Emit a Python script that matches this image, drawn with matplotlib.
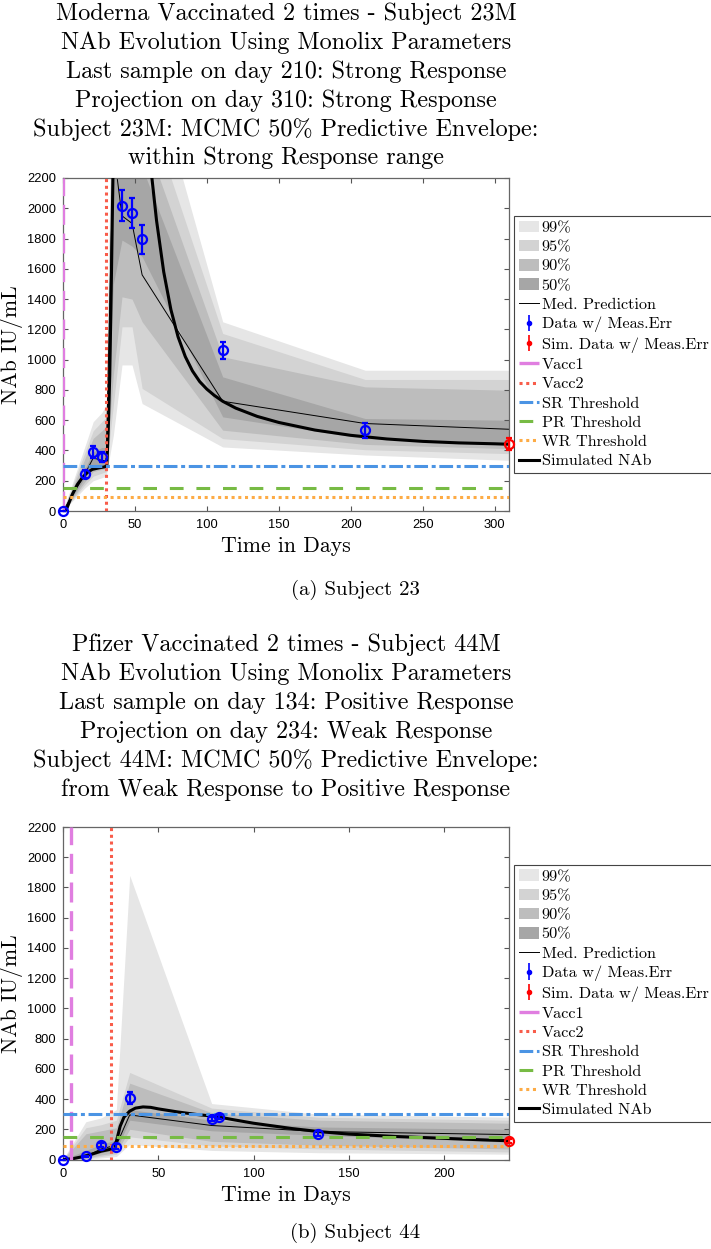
import matplotlib
matplotlib.use('Agg')
import matplotlib.pyplot as plt
from matplotlib.patches import Patch

SERIF = 'cmr10'
SANS = 'Liberation Sans'
plt.rcParams['axes.formatter.use_mathtext'] = False

# ---------------- Subject 23 (Moderna) ----------------
s23_title = ["Moderna Vaccinated 2 times - Subject 23M",
             "NAb Evolution Using Monolix Parameters",
             "Last sample on day 210: Strong Response",
             "Projection on day 310: Strong Response",
             "Subject 23M: MCMC 50% Predictive Envelope:",
             "within Strong Response range"]
s23_caption = "(a) Subject 23"
s23_xmax = 310
s23_xticks = [0, 50, 100, 150, 200, 250, 300]
s23_vacc1 = 0
s23_vacc2 = 30
s23_band_t = [0, 15, 21, 27, 30, 35, 41, 48, 55, 111, 210, 310]
s23_med = [0, 240, 350, 335, 330, 2400, 1950, 1900, 1560, 725, 578, 540]
s23_b99_lo = [0, 150, 200, 220, 230, 500, 965, 965, 710, 423, 370, 335]
s23_b99_hi = [0, 420, 590, 650, 700, 3500, 3500, 3400, 3150, 1250, 930, 930]
s23_b95_lo = [0, 170, 230, 250, 260, 700, 1217, 1217, 810, 478, 405, 379]
s23_b95_hi = [0, 380, 530, 590, 620, 3300, 3300, 3100, 2770, 1173, 869, 869]
s23_b90_lo = [0, 190, 260, 275, 280, 900, 1415, 1400, 1250, 534, 440, 412]
s23_b90_hi = [0, 340, 480, 530, 560, 3100, 3000, 2900, 2522, 1019, 820, 798]
s23_b50_lo = [0, 215, 295, 305, 310, 1500, 1790, 1750, 1680, 622, 478, 445]
s23_b50_hi = [0, 275, 390, 420, 420, 2800, 2600, 2500, 2270, 886, 611, 600]
s23_sim_t = [0, 2, 4, 6.5, 10, 13.4, 17, 20.4, 25, 29, 30.5, 31.5, 32.5, 33.5, 34.7,
             36, 38, 42, 46, 50, 55, 61.8, 65, 70, 75, 80, 85, 90, 95, 100, 105, 111,
             120, 135, 150, 175, 200, 225, 250, 275, 300, 310]
s23_sim_v = [0, 0, 50, 110, 175, 220, 255, 275, 285, 292, 300, 550, 900, 1450, 2200,
             2650, 2950, 3100, 3050, 2850, 2550, 2200, 1920, 1580, 1330, 1150, 1020, 925, 855, 805, 765, 725,
             680, 625, 585, 535, 500, 476, 460, 450, 444, 441]
s23_data_t = [0, 15, 21, 27, 41, 48, 55, 111, 210]
s23_data_v = [0, 245, 390, 357, 2018, 1967, 1795, 1061, 534]
s23_data_e = [0, 25, 40, 35, 100, 100, 95, 55, 50]
s23_simdata_t = [310]
s23_simdata_v = [441]
s23_simdata_e = [40]

# ---------------- Subject 44 (Pfizer) ----------------
s44_title = ["Pfizer Vaccinated 2 times - Subject 44M",
             "NAb Evolution Using Monolix Parameters",
             "Last sample on day 134: Positive Response",
             "Projection on day 234: Weak Response",
             "Subject 44M: MCMC 50% Predictive Envelope:",
             "from Weak Response to Positive Response"]
s44_caption = "(b) Subject 44"
s44_xmax = 234
s44_xticks = [0, 50, 100, 150, 200]
s44_vacc1 = 4
s44_vacc2 = 25
s44_band_t = [0, 12, 20, 28, 35, 78, 134, 234]
s44_med = [0, 20, 70, 95, 295, 225, 185, 165]
s44_b99_lo = [0, 0, 10, 20, 100, 60, 45, 35]
s44_b99_hi = [0, 250, 275, 330, 1880, 370, 300, 280]
s44_b95_lo = [0, 5, 20, 35, 150, 90, 70, 50]
s44_b95_hi = [0, 210, 230, 260, 576, 340, 280, 260]
s44_b90_lo = [0, 8, 30, 45, 200, 120, 95, 70]
s44_b90_hi = [0, 170, 190, 210, 505, 310, 260, 240]
s44_b50_lo = [0, 14, 45, 65, 260, 190, 160, 115]
s44_b50_hi = [0, 60, 100, 130, 330, 260, 215, 200]
s44_sim_t = [0, 5, 10, 15, 20, 25, 26, 28, 30, 32, 35, 38, 42, 46, 50, 60, 70, 80,
             90, 100, 120, 134, 150, 175, 200, 220, 234]
s44_sim_v = [0, 5, 18, 35, 55, 68, 75, 120, 220, 280, 320, 340, 348, 345, 335, 315, 298, 285,
             262, 240, 205, 185, 168, 152, 140, 130, 124]
s44_data_t = [0, 12, 20, 28, 35, 78, 82, 134]
s44_data_v = [0, 20, 95, 85, 405, 268, 280, 172]
s44_data_e = [0, 5, 15, 15, 40, 15, 15, 15]
s44_simdata_t = [234]
s44_simdata_v = [123]
s44_simdata_e = [15]

# thresholds (shared)
SR = 300
PR = 150
WR = 92
yticks = list(range(0, 2201, 200))

C99, C95, C90, C50 = '#e6e6e6', '#d3d3d3', '#bdbdbd', '#a6a6a6'
C_V1, C_V2 = '#e07ee0', '#f85c4a'
C_SR, C_PR, C_WR = '#4b94e4', '#77bb44', '#fdab45'
V1_DASH = (6, 2.6)

W, H = 711, 1249
fig = plt.figure(figsize=(W / 100, H / 100), dpi=100)

def draw(ax, title, title_y, caption, cap_y, xmax, xticks, v1, v2, bt, med,
         b99l, b99h, b95l, b95h, b90l, b90h, b50l, b50h,
         simt, simv, dt, dv, de, sdt, sdv, sde):
    ax.fill_between(bt, b99l, b99h, color=C99, lw=0, zorder=1)
    ax.fill_between(bt, b95l, b95h, color=C95, lw=0, zorder=1.1)
    ax.fill_between(bt, b90l, b90h, color=C90, lw=0, zorder=1.2)
    ax.fill_between(bt, b50l, b50h, color=C50, lw=0, zorder=1.3)
    ax.plot(bt, med, color='black', lw=0.7, zorder=2)
    ax.plot(simt, simv, color='black', lw=2.2, zorder=3)
    ax.axvline(v1, color=C_V1, lw=2.4, dashes=V1_DASH, zorder=4)
    ax.axvline(v2, color=C_V2, lw=2.2, dashes=(1, 1.2), zorder=4)
    ax.axhline(SR, color=C_SR, lw=2.2, dashes=(4.5, 1.2, 1.3, 1.2), zorder=4)
    ax.axhline(PR, color=C_PR, lw=2.2, dashes=(4.5, 4.2), zorder=4)
    ax.axhline(WR, color=C_WR, lw=2.2, dashes=(1, 1.2), zorder=4)
    ax.errorbar(dt, dv, yerr=de, fmt='o', ms=6.5, mfc='none', mec='blue', mew=1.6,
                ecolor='blue', elinewidth=1.6, capsize=2, capthick=1.6, zorder=5,
                clip_on=False)
    ax.errorbar(sdt, sdv, yerr=sde, fmt='o', ms=6.5, mfc='none', mec='red', mew=1.6,
                ecolor='red', elinewidth=1.6, capsize=2, capthick=1.6, zorder=5,
                clip_on=False)
    ax.set_xlim(0, xmax)
    ax.set_ylim(0, 2200)
    ax.set_xticks(xticks)
    ax.set_yticks(yticks)
    ax.tick_params(direction='in', length=3.5, width=0.8, colors='#555555',
                   top=True, right=True, labelsize=9.3, labelcolor='black')
    ax.tick_params(axis='x', pad=6)
    ax.tick_params(axis='y', pad=5)
    for lab in ax.get_xticklabels() + ax.get_yticklabels():
        lab.set_fontfamily(SANS)
    for s in ax.spines.values():
        s.set_color('#666666')
        s.set_linewidth(0.9)
    bb = ax.get_position()
    xc = (bb.x0 + bb.x1) / 2
    for line, yy in zip(title, title_y):
        fig.text(xc, 1 - yy / H, line, ha='center', va='center',
                 fontfamily=SERIF, fontsize=17.4)
    ax.set_xlabel("Time in Days", fontfamily=SERIF, fontsize=15.7, labelpad=4)
    ax.set_ylabel("NAb IU/mL", fontfamily=SERIF, fontsize=15.7, labelpad=3)
    handles = [Patch(facecolor=C99, edgecolor='none', label='99%'),
               Patch(facecolor=C95, edgecolor='none', label='95%'),
               Patch(facecolor=C90, edgecolor='none', label='90%'),
               Patch(facecolor=C50, edgecolor='none', label='50%')]
    h_med, = ax.plot([], [], color='black', lw=0.7, label='Med. Prediction')
    h_d = ax.errorbar([], [], yerr=[], fmt='o', ms=3, mfc='blue', mec='blue', ecolor='blue',
                      elinewidth=1.2, capsize=2, label='Data w/ Meas.Err')
    h_s = ax.errorbar([], [], yerr=[], fmt='o', ms=3, mfc='red', mec='red', ecolor='red',
                      elinewidth=1.2, capsize=2, label='Sim. Data w/ Meas.Err')
    h_v1, = ax.plot([], [], color=C_V1, lw=2.4, dashes=V1_DASH, label='Vacc1')
    h_v2, = ax.plot([], [], color=C_V2, lw=2.2, dashes=(1, 1.2), label='Vacc2')
    h_sr, = ax.plot([], [], color=C_SR, lw=2.2, dashes=(4.5, 1.2, 1.3, 1.2), label='SR Threshold')
    h_pr, = ax.plot([], [], color=C_PR, lw=2.2, dashes=(4.5, 4.2), label='PR Threshold')
    h_wr, = ax.plot([], [], color=C_WR, lw=2.2, dashes=(1, 1.2), label='WR Threshold')
    h_sim, = ax.plot([], [], color='black', lw=2.2, label='Simulated NAb')
    handles += [h_med, h_d, h_s, h_v1, h_v2, h_sr, h_pr, h_wr, h_sim]
    leg = ax.legend(handles=handles, loc='center left', bbox_to_anchor=(1.0, 0.5),
                    borderaxespad=0.3, prop={'family': SERIF, 'size': 11.7},
                    frameon=True, fancybox=False, edgecolor='#444444', framealpha=1,
                    handlelength=1.25, handletextpad=0.15, labelspacing=0.3,
                    borderpad=0.3)
    leg.get_frame().set_linewidth(0.8)
    fig.text(0.5, cap_y, caption, ha='center', va='center', fontfamily=SERIF, fontsize=15)

ax1 = fig.add_axes([63/W, 1-511/H, 446/W, 333/H])
draw(ax1, s23_title, [14, 43, 72, 101, 130, 158], s23_caption, 1-590/H, s23_xmax, s23_xticks,
     s23_vacc1, s23_vacc2,
     s23_band_t, s23_med, s23_b99_lo, s23_b99_hi, s23_b95_lo, s23_b95_hi,
     s23_b90_lo, s23_b90_hi, s23_b50_lo, s23_b50_hi, s23_sim_t, s23_sim_v,
     s23_data_t, s23_data_v, s23_data_e, s23_simdata_t, s23_simdata_v, s23_simdata_e)

ax2 = fig.add_axes([63/W, 1-1159.5/H, 446/W, 332.5/H])
draw(ax2, s44_title, [645, 674, 703, 732, 761, 790], s44_caption, 1-1233/H, s44_xmax, s44_xticks,
     s44_vacc1, s44_vacc2,
     s44_band_t, s44_med, s44_b99_lo, s44_b99_hi, s44_b95_lo, s44_b95_hi,
     s44_b90_lo, s44_b90_hi, s44_b50_lo, s44_b50_hi, s44_sim_t, s44_sim_v,
     s44_data_t, s44_data_v, s44_data_e, s44_simdata_t, s44_simdata_v, s44_simdata_e)

fig.savefig('out.png', dpi=100)
